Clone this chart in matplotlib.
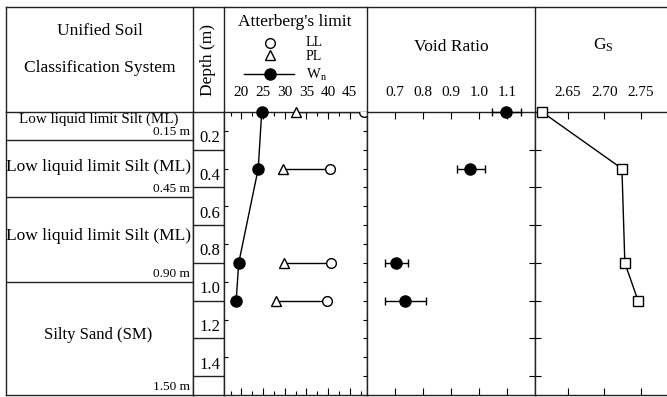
import matplotlib
matplotlib.use("Agg")
import matplotlib.pyplot as plt
from matplotlib.ticker import MultipleLocator, FixedLocator

plt.rcParams['font.family'] = ['Liberation Serif', 'DejaVu Serif']
plt.rcParams['mathtext.fontset'] = 'stix'

# data
depth = [0.0, 0.3, 0.8, 1.0]
wn = [24.7, 23.9, 19.4, 18.8]
pl = [32.6, 29.5, 29.8, 28.1]
ll = [48.2, 40.5, 40.8, 39.8]
void = [1.095, 0.968, 0.704, 0.735]
void_lo = [1.047, 0.920, 0.666, 0.666]
void_hi = [1.150, 1.020, 0.746, 0.810]
gs = [2.615, 2.724, 2.728, 2.746]

layer_bottoms = [0.15, 0.45, 0.90, 1.50]
layer_names = ['Low liquid limit Silt (ML)', 'Low liquid limit Silt (ML)',
               'Low liquid limit Silt (ML)', 'Silty Sand (SM)']
layer_text_depth = [0.04, 0.29, 0.657, 1.18]
layer_font = [10.8, 12.5, 12.5, 12]
bottom_labels = ['0.15 m', '0.45 m', '0.90 m', '1.50 m']

depth_ticks = [0.2, 0.4, 0.6, 0.8, 1.0, 1.2, 1.4]

W, H = 667, 397
fig = plt.figure(figsize=(W / 100, H / 100), dpi=100)


def box(x0, x1, y0, y1):
    return [x0 / W, 1 - y1 / H, (x1 - x0) / W, (y1 - y0) / H]


TOP, BOT = 112, 395
LW = 1.0
edge = '#222222'

# background frame and header in pixel coordinates
bg = fig.add_axes([0, 0, 1, 1])
bg.set_xlim(0, W)
bg.set_ylim(H, 0)
bg.axis('off')
bg.plot([6, W], [7, 7], color=edge, lw=LW)
for x in [6, 193, 224, 367, 535]:
    bg.plot([x, x], [7, TOP], color=edge, lw=LW)
bg.text(100, 31, 'Unified Soil', ha='center', va='center', fontsize=12.5)
bg.text(100, 68, 'Classification System', ha='center', va='center', fontsize=12.5)
bg.text(208, 60, 'Depth (m)', ha='center', va='center', rotation=90, fontsize=12.5)
bg.text(295, 22, "Atterberg's limit", ha='center', va='center', fontsize=12.5)
bg.plot([270], [43], 'o', mfc='white', mec='black', ms=7)
bg.plot([270], [55], '^', mfc='white', mec='black', ms=7)
bg.plot([244, 294], [74, 74], '-', color='black', lw=1)
bg.plot([270], [74], 'o', color='black', ms=8)
bg.text(306, 43, 'LL', ha='left', va='center', fontsize=10)
bg.text(306, 57, 'PL', ha='left', va='center', fontsize=10)
bg.text(306, 75, r'W$_\mathregular{n}$', ha='left', va='center', fontsize=10.5)
bg.text(451, 47, 'Void Ratio', ha='center', va='center', fontsize=12.5)
bg.text(603, 45, r'G$_\mathregular{S}$', ha='center', va='center', fontsize=12.5)

# soil column
ax_soil = fig.add_axes(box(6, 193, TOP, BOT))
ax_soil.set_ylim(1.5, 0)
ax_soil.set_xlim(0, 1)
ax_soil.set_xticks([])
ax_soil.set_yticks([])
for b in layer_bottoms[:-1]:
    ax_soil.axhline(b, color=edge, lw=LW)
for name, yd, fs in zip(layer_names, layer_text_depth, layer_font):
    ax_soil.text(0.495, yd, name, ha='center', va='center', fontsize=fs)
for lab, b in zip(bottom_labels, layer_bottoms):
    ax_soil.annotate(lab, (0.985, b), xytext=(0, 1.5), textcoords='offset points',
                     ha='right', va='bottom', fontsize=9.5)

# depth column
ax_dep = fig.add_axes(box(193, 224, TOP, BOT))
ax_dep.set_ylim(1.5, 0)
ax_dep.set_xlim(0, 1)
ax_dep.set_xticks([])
ax_dep.set_yticks([])
for d in depth_ticks:
    ax_dep.axhline(d, color=edge, lw=LW)
    ax_dep.annotate(f'{d:.1f}', (0.55, d), xytext=(0, 2.5), textcoords='offset points',
                    ha='center', va='bottom', fontsize=12)

# Atterberg limits
ax_att = fig.add_axes(box(224, 367, TOP, BOT))
ax_att.set_ylim(1.5, 0)
ax_att.set_xlim(16, 49)
for d, p, l in zip(depth, pl, ll):
    ax_att.plot([p, l], [d, d], '-', color='black', lw=1, zorder=2)
ax_att.plot(ll, depth, 'o', mfc='white', mec='black', ms=7, zorder=3)
ax_att.plot(pl, depth, '^', mfc='white', mec='black', ms=7, zorder=3, clip_on=False)
ax_att.plot(wn, depth, '-o', color='black', ms=8, lw=1, zorder=4, clip_on=False)
ax_att.xaxis.set_major_locator(FixedLocator([20, 25, 30, 35, 40, 45]))
ax_att.xaxis.set_minor_locator(MultipleLocator(2.5))
ax_att.yaxis.set_major_locator(FixedLocator([0.1, 0.3, 0.5, 0.7, 0.9, 1.1, 1.3]))
ax_att.yaxis.set_minor_locator(MultipleLocator(0.1))

# void ratio
ax_v = fig.add_axes(box(367, 535, TOP, BOT))
ax_v.set_ylim(1.5, 0)
ax_v.set_xlim(0.6, 1.2)
xerr = [[v - lo for v, lo in zip(void, void_lo)], [hi - v for v, hi in zip(void, void_hi)]]
ax_v.errorbar(void, depth, xerr=xerr, fmt='o', color='black', ms=8, capsize=3,
              elinewidth=1, capthick=1, clip_on=False, zorder=4)
ax_v.xaxis.set_major_locator(FixedLocator([0.7, 0.8, 0.9, 1.0, 1.1]))
ax_v.set_xticklabels(['0.7', '0.8', '0.9', '1.0', '1.1'])
ax_v.yaxis.set_major_locator(FixedLocator(depth_ticks))

# specific gravity (panel runs past the right edge of the picture)
ax_g = fig.add_axes(box(535, 684, TOP, BOT))
ax_g.set_ylim(1.5, 0)
ax_g.set_xlim(2.6054, 2.8087)
ax_g.plot(gs, depth, '-s', color='black', mfc='white', mec='black', ms=7.5, lw=1,
          clip_on=False, zorder=4)
ax_g.xaxis.set_major_locator(FixedLocator([2.65, 2.70, 2.75]))
ax_g.set_xticklabels(['2.65', '2.70', '2.75'])
ax_g.yaxis.set_major_locator(FixedLocator(depth_ticks))

for ax in [ax_att, ax_v, ax_g]:
    ax.tick_params(axis='x', which='both', direction='in', top=True, bottom=True,
                   labeltop=True, labelbottom=False, labelsize=11, pad=9, width=0.8)
    ax.tick_params(axis='x', which='major', length=5)
    ax.tick_params(axis='x', which='minor', length=3)
    ax.tick_params(axis='y', which='both', direction='in', labelleft=False,
                   labelright=False, width=0.8)

ax_att.tick_params(axis='y', which='major', left=True, right=True, length=3)
ax_att.tick_params(axis='y', which='minor', left=False, right=True, length=3)
ax_v.tick_params(axis='y', which='major', left=False, right=True, length=4)
ax_g.tick_params(axis='y', which='major', left=True, right=False, length=4)

for ax in [ax_soil, ax_dep, ax_att, ax_v, ax_g]:
    for s in ax.spines.values():
        s.set_linewidth(LW)
        s.set_color(edge)

fig.savefig('out.png', dpi=100)
